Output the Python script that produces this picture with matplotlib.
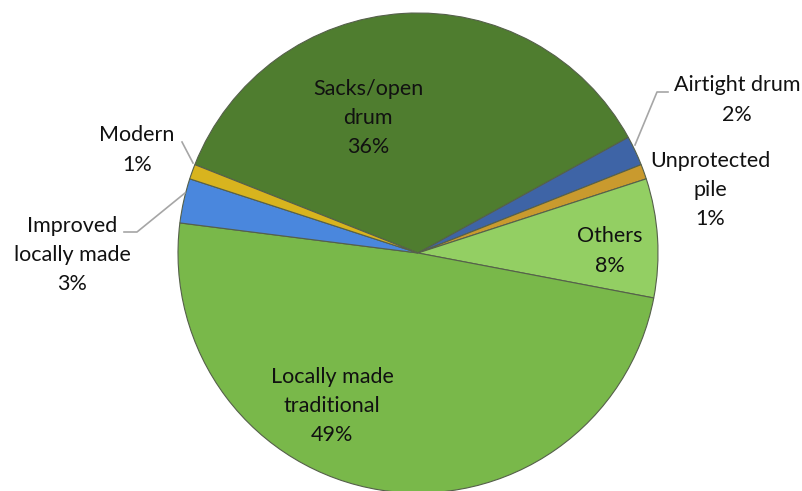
import matplotlib
matplotlib.use("Agg")
import matplotlib.pyplot as plt

categories = ["Sacks/open\ndrum", "Airtight drum", "Unprotected\npile", "Others",
              "Locally made\ntraditional", "Improved\nlocally made", "Modern"]
values = [36, 2, 1, 8, 49, 3, 1]
colors = ["#4f7d2f", "#3e64a6", "#c99a2e", "#93cf63", "#79b84a", "#4a87dd", "#d8b41e"]

W, H = 803, 491
fig = plt.figure(figsize=(W / 100, H / 100), dpi=100)
ax = fig.add_axes([0, 0, 1, 1])

cx, cy, R = 418, H - 253, 240
wedges, _ = ax.pie(values, colors=colors, startangle=158.4, counterclock=False,
                   center=(cx, cy), radius=R,
                   wedgeprops=dict(edgecolor="#55604a", linewidth=0.8))
ax.set_xlim(0, W)
ax.set_ylim(0, H)
ax.set_aspect("equal")
ax.axis("off")

# label layout (pixel positions from top-left)
label_pos = [(368, 118), (737, 100), (710, 190), (610, 251),
             (332, 406), (72, 255), (137, 150)]
font = dict(family=["Lato", "DejaVu Sans"], fontsize=15.5, color="#111111",
            ha="center", va="center", linespacing=1.58)
for name, v, (x, y) in zip(categories, values, label_pos):
    ax.text(x, H - y, f"{name}\n{v}%", **font)

# leader lines
leaders = [
    [(635, 145), (657, 92), (668, 92)],
    [(193, 163), (182, 142)],
    [(185, 193), (137, 232), (124, 232)],
]
for pts in leaders:
    ax.plot([p[0] for p in pts], [H - p[1] for p in pts], color="#a6a6a6", lw=1.2)

fig.savefig("out.png", dpi=100)
